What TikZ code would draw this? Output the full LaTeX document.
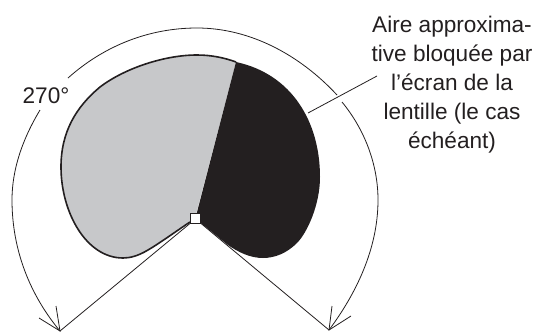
\documentclass[tikz,border=0pt]{standalone}
\usepackage{fontspec}
\setmainfont{Liberation Sans}
\definecolor{ink}{HTML}{231F20}
\definecolor{lens}{HTML}{C7C8CA}
\tikzset{
  thin line/.style={draw=ink,line width=0.8pt},
  edge line/.style={draw=ink,line width=1.6pt},
  pivot/.style={draw=ink,fill=white,line width=0.7pt,minimum size=10pt,inner sep=0pt,rectangle},
  callout/.style={align=center,font=\fontsize{22.6}{29}\selectfont,text=ink,inner sep=0pt}
}
\begin{document}
\begin{tikzpicture}[x=1pt,y=-1pt]
\useasboundingbox (0,0) rectangle (548,332);
% grey part
\fill[lens] (236,62) -- (195,218) -- (190,222)
  .. controls (175,232) and (160,243) .. (148,250)
  .. controls (138,256) and (130,258) .. (123,258)
  .. controls (86,258) and (61,212) .. (61,167)
  .. controls (61,132) and (76,107) .. (100,87)
  .. controls (125,68) and (165,55) .. (197,55)
  .. controls (212,55) and (225,58) .. (236,62) -- cycle;
\draw[edge line] (236,62) .. controls (225,58) and (212,55) .. (197,55)
  .. controls (165,55) and (125,68) .. (100,87)
  .. controls (76,107) and (61,132) .. (61,167)
  .. controls (61,212) and (86,258) .. (123,258)
  .. controls (130,258) and (138,256) .. (148,250)
  .. controls (160,243) and (175,232) .. (190,222);
% dark part
\fill[ink] (236,62) .. controls (292,74) and (320,122) .. (320,177)
  .. controls (320,205) and (307,233) .. (297,243)
  .. controls (287,253) and (275,258) .. (263,258)
  .. controls (250,258) and (238,252) .. (228,245)
  -- (197,220) -- (195.5,218) -- cycle;
% nodes
\node[pivot] (p) at (195.5,218) {};
\node[callout] (t) at (452,85) {Aire approxima-\\tive bloquée par\\l’écran de la\\lentille (le cas\\échéant)};
\node[text=ink,font=\fontsize{22.6}{24}\selectfont,inner sep=0pt] (a) at (46,96) {270°};
\coordinate (lt) at (60,331);
\coordinate (rt) at (329,330);
\coordinate (lead1) at (308,113);
\coordinate (lead2) at (377,76);
% connectors
\draw[thin line] (p.south west) -- (lt);
\draw[thin line] (p.south east) -- (rt);
\draw[thin line] (lead1) -- (lead2);
% dimension arc
\draw[thin line] (68,78) .. controls (105,45) and (150,28) .. (197,28)
  .. controls (250,28) and (300,55) .. (337,95);
\draw[thin line] (342,102) .. controls (365,130) and (378,165) .. (378,200)
  .. controls (378,250) and (355,295) .. (rt);
\draw[thin line] (40,110) .. controls (22,140) and (12,170) .. (12,200)
  .. controls (12,250) and (30,295) .. (lt);
% open arrowheads
\draw[thin line] (39,318) -- (lt) -- (56,306);
\draw[thin line] (351,316) -- (rt) -- (332,306);
\end{tikzpicture}
\end{document}
